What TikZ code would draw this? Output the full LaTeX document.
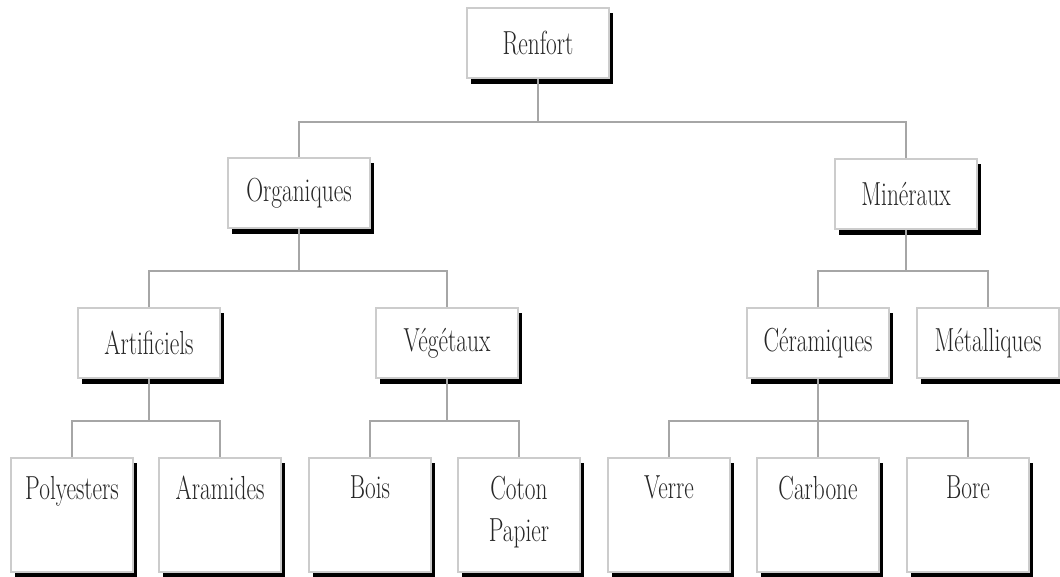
\documentclass[tikz,border=0pt]{standalone}
\usepackage{graphicx}
\usetikzlibrary{shadows}
\newcommand{\cz}[1]{\scalebox{0.7}[1]{#1}}
\begin{document}
\begin{tikzpicture}[x=0.75pt,y=-0.75pt,
  box/.style={draw=gray!40, line width=1.5pt, fill=white, inner sep=0pt,
    font=\fontsize{25}{31.5}\selectfont, text=black!85,
    drop shadow={shadow xshift=3pt, shadow yshift=-4pt, fill=black, opacity=1}},
  mid/.style={box, minimum width=107pt, minimum height=53pt},
  leaf/.style={box, minimum width=92pt, minimum height=85.5pt},
  lab/.style={anchor=north, inner sep=0pt, yshift=-14pt, align=center,
    font=\fontsize{25}{31.5}\selectfont, text=black!85},
  link/.style={draw=gray!70, line width=1.3pt}]
\useasboundingbox (0,0) rectangle (1060,576);

% nodes
\node[mid] (ren) at (538,43) {\cz{Renfort}};
\node[mid] (org) at (299,193) {\cz{Organiques}};
\node[mid] (min) at (906,194) {\cz{Minéraux}};
\node[mid] (art) at (149,343) {\cz{Artificiels}};
\node[mid] (veg) at (447,343) {\cz{Végétaux}};
\node[mid] (cer) at (818,343) {\cz{Céramiques}};
\node[mid] (met) at (988,343) {\cz{Métalliques}};

\node[leaf, label={[lab]north:\cz{Polyesters}}] (pol) at (72,515) {};
\node[leaf, label={[lab]north:\cz{Aramides}}] (ara) at (220,515) {};
\node[leaf, label={[lab]north:\cz{Bois}}] (boi) at (370,515) {};
\node[leaf, label={[lab]north:\cz{Coton}\\\cz{Papier}}] (cot) at (519,515) {};
\node[leaf, label={[lab]north:\cz{Verre}}] (ver) at (669,515) {};
\node[leaf, label={[lab]north:\cz{Carbone}}] (car) at (818,515) {};
\node[leaf, label={[lab]north:\cz{Bore}}] (bor) at (968,515) {};

% junctions
\coordinate (j1) at (538,122);
\coordinate (j2) at (299,271);
\coordinate (j3) at (906,271);
\coordinate (j4) at (149,421);
\coordinate (j5) at (447,421);
\coordinate (j6) at (818,421);

% connectors
\draw[link] (ren.south) -- (j1);
\draw[link] (org.north) |- (j1) -| (min.north);
\draw[link] (org.south) -- (j2);
\draw[link] (art.north) |- (j2) -| (veg.north);
\draw[link] (min.south) -- (j3);
\draw[link] (cer.north) |- (j3) -| (met.north);
\draw[link] (art.south) -- (j4);
\draw[link] (pol.north) |- (j4) -| (ara.north);
\draw[link] (veg.south) -- (j5);
\draw[link] (boi.north) |- (j5) -| (cot.north);
\draw[link] (cer.south) -- (j6);
\draw[link] (ver.north) |- (j6) -| (bor.north);
\draw[link] (j6) -- (car.north);
\end{tikzpicture}
\end{document}
